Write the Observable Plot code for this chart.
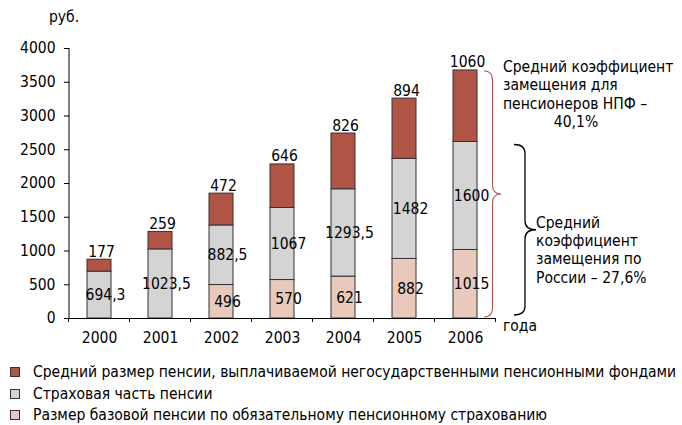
<!DOCTYPE html>
<html><head><meta charset="utf-8">
<script src="https://cdn.jsdelivr.net/npm/d3@7"></script>
<script src="https://cdn.jsdelivr.net/npm/@observablehq/plot@0.6"></script>
<style>
body{margin:0;background:#fff;font-family:"DejaVu Sans Condensed","DejaVu Sans",sans-serif;font-stretch:condensed;color:#000;}
#wrap{width:682px;}
#legend{padding:6px 0 0 10px;font-size:15.5px;}
#legend .row{display:flex;align-items:center;height:21.8px;white-space:nowrap;}
#legend .sw{width:8px;height:8px;border:1px solid #333;margin-right:13px;flex:none;}
</style></head><body><div id="wrap"><div id="chart"></div><div id="legend"></div></div>
<script>
const years = ["2000","2001","2002","2003","2004","2005","2006"];
const basePension = [0, 0, 496, 570, 621, 882, 1015];
const insurancePart = [694.3, 1023.5, 882.5, 1067, 1293.5, 1482, 1600];
const npfPension = [177, 259, 472, 646, 826, 894, 1060];
const seriesNames = [
  "Размер базовой пенсии по обязательному пенсионному страхованию",
  "Страховая часть пенсии",
  "Средний размер пенсии, выплачиваемой негосударственными пенсионными фондами"
];
const seriesColors = ["#e8c9bb", "#d4d4d4", "#b05446"];
const yTicks = [0, 500, 1000, 1500, 2000, 2500, 3000, 3500, 4000];
const npfNote = ["Средний коэффициент", "замещения для", "пенсионеров НПФ –", "40,1%"];
const russiaNote = ["Средний", "коэффициент", "замещения по", "России – 27,6%"];
const yUnit = "руб.";
const xUnit = "года";

const seriesValues = [basePension, insurancePart, npfPension];
const rows = [];
seriesValues.forEach((vals, s) => vals.forEach((v, i) => rows.push({year: years[i], series: seriesNames[s], value: v, s})));
const fmt = v => String(v).replace(".", ",");
const FONT = '"DejaVu Sans Condensed","DejaVu Sans",sans-serif';
const FS = 15.5;

function annotations(index, scales, values, dimensions) {
  const x = scales.x, y = scales.y;
  const {marginLeft, marginRight, width} = dimensions;
  const g = d3.create("svg:g").attr("font-family", FONT).attr("font-size", FS).attr("text-anchor", "start");
  const y0 = y(0);
  const left = marginLeft;
  g.append("line").attr("x1", left).attr("x2", left).attr("y1", y(yTicks[yTicks.length - 1])).attr("y2", y0).attr("stroke", "#000");
  const step = x(years[1]) - x(years[0]);
  const bw = x.bandwidth();
  const start = x(years[0]) + bw / 2 - step / 2;
  for (let k = 0; k <= years.length; k++) {
    const bx = start + k * step;
    g.append("line").attr("x1", bx).attr("x2", bx).attr("y1", y0).attr("y2", y0 + 4).attr("stroke", "#000");
  }
  const last = years.length - 1;
  const barRight = x(years[last]) + bw;
  const total = basePension[last] + insurancePart[last] + npfPension[last];
  const state = basePension[last] + insurancePart[last];
  function brace(x0, ya, yb, w, color, sw) {
    const xm = x0 + w * 0.5, xt = x0 + w, ym = (ya + yb) / 2, r = 9;
    const p = `M${x0},${ya} Q${xm},${ya} ${xm},${ya + r} L${xm},${ym - r} Q${xm},${ym} ${xt},${ym} Q${xm},${ym} ${xm},${ym + r} L${xm},${yb - r} Q${xm},${yb} ${x0},${yb}`;
    g.append("path").attr("d", p).attr("fill", "none").attr("stroke", color).attr("stroke-width", sw);
  }
  brace(barRight + 7, y(total) + 1, y0 - 1, 17, "#b05446", 1.1);
  brace(barRight + 37, y(state) + 3, y0 - 3, 22, "#000", 1.3);
  const tx1 = barRight + 26, ty1 = y(total) + 2;
  npfNote.forEach((t, i) => {
    const isLast = i === npfNote.length - 1;
    g.append("text").attr("x", isLast ? tx1 + 73 : tx1).attr("y", ty1 + i * 18.3)
      .attr("text-anchor", isLast ? "middle" : "start").text(t);
  });
  const tx2 = barRight + 59, ty2 = (y(state) + y0) / 2 - 2;
  russiaNote.forEach((t, i) => {
    g.append("text").attr("x", tx2).attr("y", ty2 + i * 18.3).attr("text-anchor", "start").text(t);
  });
  g.append("text").attr("x", left - 20).attr("y", y(yTicks[yTicks.length - 1]) - 26).text(yUnit);
  g.append("text").attr("x", width - marginRight + 7).attr("y", y0 + 13).text(xUnit);
  return g.node();
}

const chart = Plot.plot({
  width: 682,
  height: 355,
  marginLeft: 69,
  marginRight: 186,
  marginTop: 48,
  marginBottom: 37,
  style: {fontFamily: FONT, fontSize: FS + "px", color: "#000", background: "#fff"},
  x: {domain: years, paddingInner: 0.6, paddingOuter: 0.3},
  y: {domain: [0, 4000]},
  color: {domain: seriesNames, range: seriesColors},
  marks: [
    Plot.barY(rows.filter(d => d.value > 0), Plot.stackY({x: "year", y: "value", z: "series", fill: "series", stroke: "#333", strokeWidth: 1})),
    Plot.ruleY([0], {stroke: "#000"}),
    Plot.axisY({ticks: yTicks, tickFormat: d => String(d), tickSize: 5, tickPadding: 9, label: null, fontSize: FS}),
    Plot.axisX({tickSize: 0, tickPadding: 13, label: null, fontSize: FS}),
    Plot.text(rows, Plot.stackY({x: "year", y: "value", z: "series", text: d => (d.s < 2 && d.value > 0) ? fmt(d.value) : null, dx: 6, fontSize: FS, fill: "#000"})),
    Plot.text(rows, Plot.stackY2({x: "year", y: "value", z: "series", text: d => d.s === 2 ? fmt(d.value) : null, lineAnchor: "bottom", dy: -3, dx: 2, fontSize: FS, fill: "#000"})),
    annotations
  ]
});
document.getElementById("chart").appendChild(chart);

const legend = document.getElementById("legend");
[2, 1, 0].forEach(s => {
  const row = document.createElement("div");
  row.className = "row";
  const sw = document.createElement("span");
  sw.className = "sw";
  sw.style.background = seriesColors[s];
  const label = document.createElement("span");
  label.textContent = seriesNames[s];
  row.appendChild(sw);
  row.appendChild(label);
  legend.appendChild(row);
});
</script>
</body></html>
